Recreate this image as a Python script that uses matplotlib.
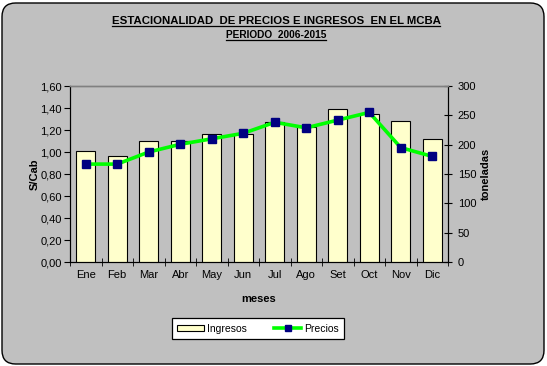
import matplotlib
matplotlib.use('Agg')
import matplotlib.pyplot as plt
from matplotlib.patches import FancyBboxPatch
from matplotlib.lines import Line2D
import numpy as np

plt.rcParams['font.family'] = ['Liberation Sans', 'DejaVu Sans']

# Data
meses = ['Ene', 'Feb', 'Mar', 'Abr', 'May', 'Jun',
         'Jul', 'Ago', 'Set', 'Oct', 'Nov', 'Dic']
ingresos = [189, 180, 207, 207, 218, 219, 239, 230, 260, 253, 240, 209]
precios = [0.89, 0.89, 1.00, 1.07, 1.12, 1.17, 1.27, 1.22, 1.29, 1.36, 1.04, 0.96]
left_ticks = [0.0, 0.2, 0.4, 0.6, 0.8, 1.0, 1.2, 1.4, 1.6]
right_ticks = [0, 50, 100, 150, 200, 250, 300]

W, H = 547, 366
BG = '#C0C0C0'

fig = plt.figure(figsize=(W / 100, H / 100), dpi=100)
fig.patch.set_facecolor('white')

# Rounded chart frame
frame = FancyBboxPatch((2 / W, 2 / H), (W - 5) / W, (H - 5) / H,
                       boxstyle='round,pad=0,rounding_size=0.025',
                       transform=fig.transFigure, facecolor=BG,
                       edgecolor='black', linewidth=1.0, zorder=-10,
                       mutation_aspect=W / H)
fig.patches.append(frame)

ax = fig.add_axes([70 / W, 1 - 262 / H, (448 - 70) / W, (262 - 86) / H])
ax.set_facecolor(BG)
ax2 = ax.twinx()

x = np.arange(len(meses))

# Bars - Ingresos on right axis
ax2.bar(x, ingresos, width=0.59, color='#FFFFCC', edgecolor='black',
        linewidth=0.8, zorder=1)
ax2.set_ylim(0, 300)
ax2.set_yticks(right_ticks)
ax2.set_yticklabels([str(t) for t in right_ticks], fontsize=8)
ax2.set_ylabel('toneladas', fontsize=8, fontweight='bold', labelpad=3)

# Line - Precios on left axis (drawn on top)
ax3 = ax.twinx()
ax3.plot(x, precios, color='#00FF00', linewidth=2.6, marker='s',
         markersize=5.5, markerfacecolor='#000080',
         markeredgecolor='#000080', zorder=3)
ax3.set_ylim(0, 1.6)
ax3.set_yticks([])
for s in ax3.spines.values():
    s.set_visible(False)

ax.set_ylim(0, 1.6)
ax.set_yticks(left_ticks)
ax.set_yticklabels([('%.2f' % t).replace('.', ',') for t in left_ticks],
                   fontsize=8)
ax.set_ylabel('S/Cab', fontsize=8, fontweight='bold', labelpad=0)
ax.set_xlim(-0.5, len(meses) - 0.5)
ax.set_xticks(x)
ax.set_xticklabels(meses, fontsize=8)
ax.tick_params(axis='x', length=0, pad=6)
ax.set_xticks(np.arange(-0.5, len(meses), 1), minor=True)
ax.tick_params(axis='x', which='minor', direction='inout', length=6)
ax.tick_params(axis='y', direction='out', length=4, pad=2)
ax2.tick_params(axis='y', direction='inout', length=6, pad=4)
ax.set_xlabel('meses', fontsize=8, fontweight='bold', labelpad=10)

for a in (ax, ax2):
    a.spines['top'].set_color('#808080')
    a.spines['top'].set_linewidth(1.0)
    a.spines['left'].set_color('black')
    a.spines['right'].set_color('black')
    a.spines['bottom'].set_color('black')

# Legend
handles = [
    plt.Rectangle((0, 0), 1, 1, facecolor='#FFFFCC', edgecolor='black',
                  linewidth=0.8),
    Line2D([], [], color='#00FF00', linewidth=2.6, marker='s',
           markersize=5, markerfacecolor='#000080',
           markeredgecolor='#000080'),
]
leg = fig.legend(handles, ['Ingresos', 'Precios'], loc='center',
                 bbox_to_anchor=(258 / W, 1 - 328.5 / H), ncol=2,
                 fontsize=7.5, frameon=True, fancybox=False,
                 edgecolor='black', framealpha=1, handlelength=2.6,
                 handleheight=0.6, columnspacing=2.6, handletextpad=0.3,
                 borderpad=0.5, borderaxespad=0)
leg.get_frame().set_linewidth(0.9)

# Underlined titles
renderer = fig.canvas.get_renderer()


def underlined_text(xc, yc, s, size):
    t = fig.text(xc, yc, s, ha='center', va='center', fontsize=size,
                 fontweight='bold', transform=fig.transFigure)
    bb = t.get_window_extent(renderer=renderer)
    y_line = (bb.y0 + 0.5) / H
    fig.add_artist(Line2D([bb.x0 / W, bb.x1 / W], [y_line, y_line],
                          color='black', linewidth=0.9,
                          transform=fig.transFigure))


underlined_text(276 / W, 1 - 21 / H,
                'ESTACIONALIDAD  DE PRECIOS E INGRESOS  EN EL MCBA', 8.2)
underlined_text(276 / W, 1 - 35 / H, 'PERIODO  2006-2015', 7.3)

fig.savefig('out.png', dpi=100, facecolor=fig.get_facecolor())
